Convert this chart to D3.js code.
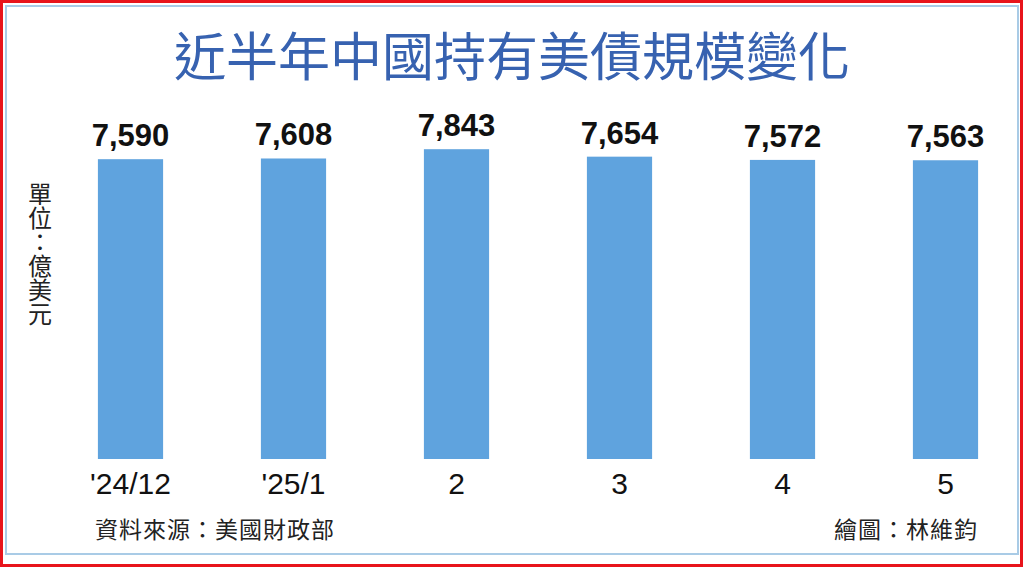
<!DOCTYPE html>
<html><head><meta charset="utf-8">
<script src="https://cdn.jsdelivr.net/npm/d3@7"></script>
<style>html,body{margin:0;padding:0;background:#fff;overflow:hidden}</style>
</head><body>
<svg id="c" width="1024" height="568"></svg>
<script>
const categories = ["'24/12", "'25/1", "2", "3", "4", "5"];
const values = [7590, 7608, 7843, 7654, 7572, 7563];
const title = "近半年中國持有美債規模變化";
const unitLabel = "單位：億美元";
const sourceText = "資料來源：美國財政部";
const creditText = "繪圖：林維鈞";

const svg = d3.select("#c");
svg.append("rect").attr("x",0).attr("y",0).attr("width",1024).attr("height",568).attr("fill","#fff");
// borders
svg.append("rect").attr("x",1.5).attr("y",1.5).attr("width",1020).attr("height",564)
  .attr("fill","none").attr("stroke","#e8141b").attr("stroke-width",3);
svg.append("rect").attr("x",6).attr("y",6).attr("width",1012).attr("height",548)
  .attr("fill","none").attr("stroke","#a9cbe6").attr("stroke-width",2);

svg.append("text").attr("x",512).attr("y",76).attr("text-anchor","middle")
  .attr("font-family","'Noto Sans CJK TC'").attr("font-size",52).attr("font-weight",400)
  .attr("fill","#3762b0").text(title);

const x = d3.scaleBand().domain(categories).range([49,1027]).paddingInner(0.6).paddingOuter(0.3);
const y = d3.scaleLinear().domain([0,8000]).range([459,143]);

const g = svg.append("g");
g.selectAll("rect.bar").data(values).join("rect").attr("class","bar")
  .attr("x",(d,i)=>x(categories[i])).attr("width",x.bandwidth())
  .attr("y",d=>y(d)).attr("height",d=>y(0)-y(d)).attr("fill","#5fa3de");

g.selectAll("text.val").data(values).join("text").attr("class","val")
  .attr("x",(d,i)=>x(categories[i])+x.bandwidth()/2).attr("y",d=>y(d)-13)
  .attr("text-anchor","middle").attr("font-family","'Liberation Sans', Arial, sans-serif")
  .attr("font-weight","bold").attr("font-size",31).attr("fill","#111")
  .text(d=>d3.format(",")(d));

const xAxis = d3.axisBottom(x).tickSize(0).tickPadding(0);
const ax = svg.append("g").attr("transform","translate(0,459)").call(xAxis);
ax.select(".domain").remove();
ax.selectAll("text").attr("dy",null).attr("y",35)
  .attr("font-family","'Liberation Sans', Arial, sans-serif").attr("font-size",30).attr("fill","#111");

svg.append("text").attr("transform","translate(40,182)")
  .attr("writing-mode","tb").style("writing-mode","vertical-rl")
  .attr("font-family","'Noto Sans CJK TC'").attr("font-size",24).attr("fill","#222").text(unitLabel);

svg.append("text").attr("x",95).attr("y",538).attr("font-family","'Noto Sans CJK TC'")
  .attr("font-size",23).attr("letter-spacing",1).attr("fill","#222").text(sourceText);
svg.append("text").attr("x",978).attr("y",538).attr("text-anchor","end").attr("font-family","'Noto Sans CJK TC'")
  .attr("font-size",23).attr("letter-spacing",1).attr("fill","#222").text(creditText);
</script>
</body></html>
